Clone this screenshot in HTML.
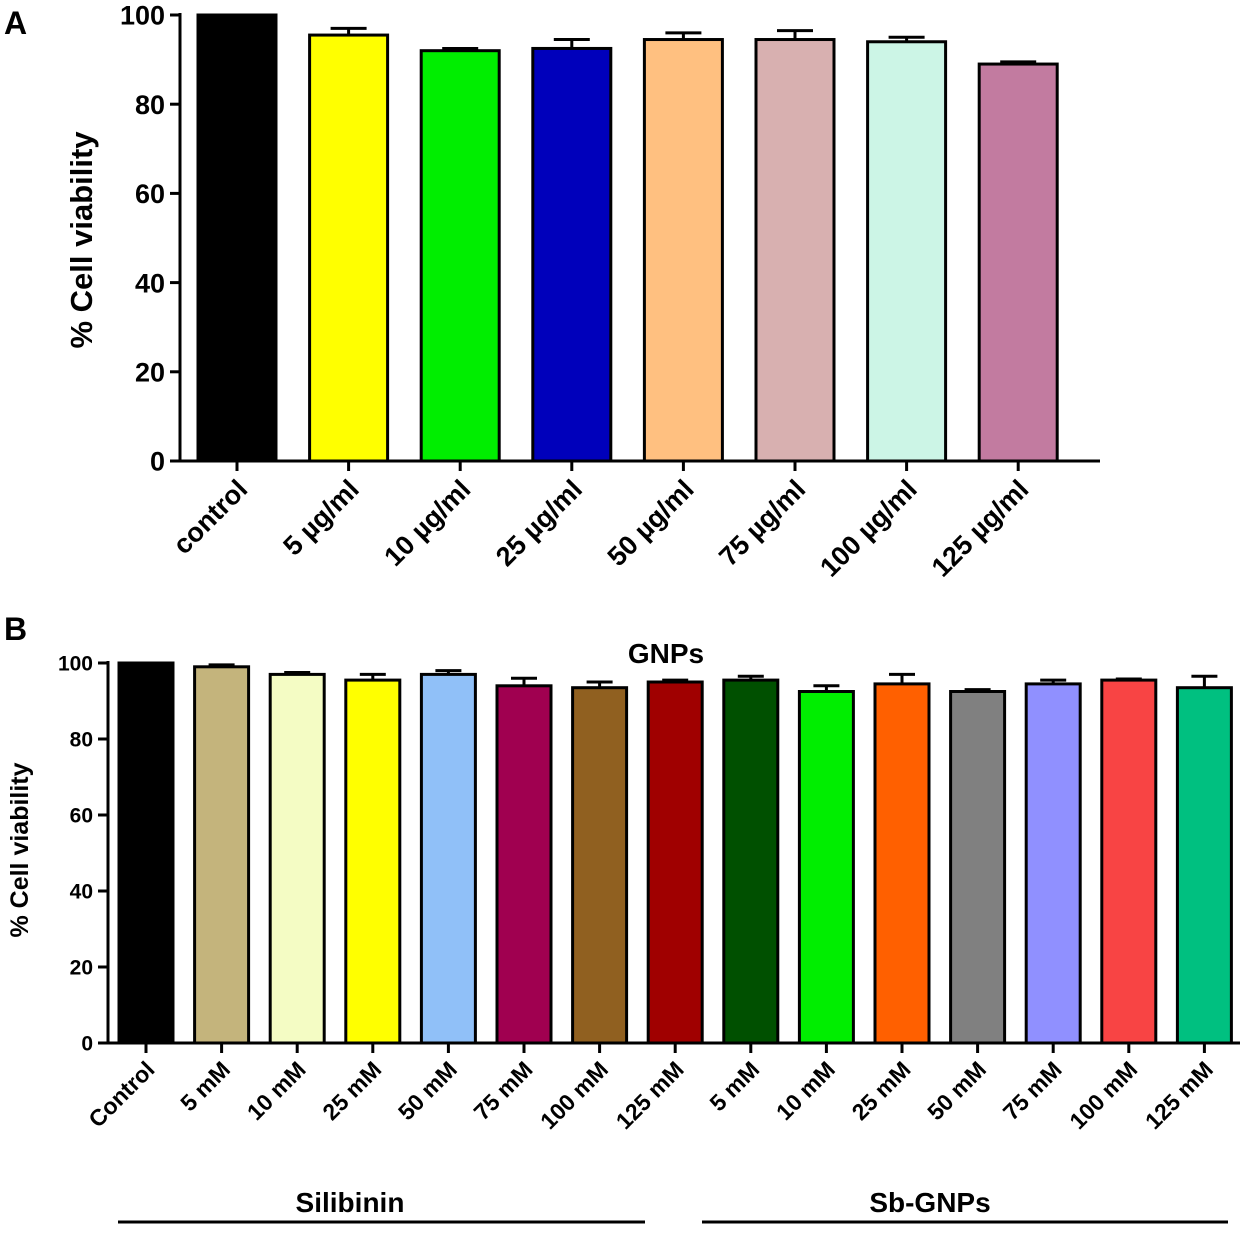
<!DOCTYPE html>
<html><head><meta charset="utf-8"><style>
body{margin:0;background:#fff}
svg text{font-family:"Liberation Sans",Arial,sans-serif;font-weight:bold;fill:#000}
</style></head><body>
<svg id="chart" width="1253" height="1228" viewBox="0 0 1253 1228" xmlns="http://www.w3.org/2000/svg">
<text x="4" y="34" font-size="32">A</text>
<text x="4" y="640" font-size="32">B</text>
<text x="666" y="663" font-size="28" text-anchor="middle">GNPs</text>
<text transform="translate(92,240) rotate(-90)" font-size="31" text-anchor="middle">% Cell viability</text>
<text transform="translate(28,850) rotate(-90)" font-size="25" text-anchor="middle">% Cell viability</text>
<text x="350" y="1212" font-size="28" text-anchor="middle">Silibinin</text>
<line x1="118" y1="1222" x2="645" y2="1222" stroke="#000" stroke-width="3"/>
<text x="930" y="1212" font-size="28" text-anchor="middle">Sb-GNPs</text>
<line x1="702" y1="1222" x2="1228" y2="1222" stroke="#000" stroke-width="3"/>
<g id="pa"></g><g id="pb"></g>
</svg>
<script>
const catsA=["control","5 µg/ml","10 µg/ml","25 µg/ml","50 µg/ml","75 µg/ml","100 µg/ml","125 µg/ml"];
const valsA=[100,95.5,92,92.5,94.5,94.5,94,89];
const errA=[0,1.5,0.5,2,1.5,2,1,0.5];
const colorsA=["#000000","#ffff00","#00ee00","#0000bb","#ffc080","#d8b0b0","#ccf5e6","#c27ba0"];
const ticksA=[0,20,40,60,80,100];
const catsB=["Control","5 mM","10 mM","25 mM","50 mM","75 mM","100 mM","125 mM","5 mM","10 mM","25 mM","50 mM","75 mM","100 mM","125 mM"];
const valsB=[100,99,97,95.5,97,94,93.5,95,95.5,92.5,94.5,92.5,94.5,95.5,93.5];
const errB=[0,0.5,0.5,1.5,1,2,1.5,0.5,1,1.5,2.5,0.5,1,0.3,3];
const colorsB=["#000000","#c4b47c","#f4fcc4","#ffff00","#90c0f8","#a00050","#906020","#a00000","#005000","#00ee00","#ff6000","#808080","#9090ff","#f84444","#00c080"];
const ticksB=[0,20,40,60,80,100];
const NS="http://www.w3.org/2000/svg";
function mk(g,t,a){const e=document.createElementNS(NS,t);for(const k in a)e.setAttribute(k,a[k]);g.appendChild(e);return e;}
function draw(g,cfg){
  const y=v=>cfg.y0-(v/100)*(cfg.y0-cfg.y100);
  const x=i=>cfg.x0+i*cfg.step;
  let ax=mk(g,"line",{x1:cfg.ax,y1:cfg.y100-2,x2:cfg.ax,y2:cfg.y0,stroke:"#000","stroke-width":3});
  
  
  let xa=mk(g,"line",{x1:cfg.ax,y1:cfg.y0,x2:cfg.xEnd,y2:cfg.y0,stroke:"#000","stroke-width":3});
  
  
  cfg.ticks.forEach(t=>{
    const tk=mk(g,"line",{x1:cfg.ax-10,y1:y(t),x2:cfg.ax,y2:y(t),stroke:"#000","stroke-width":3});
    
    
    const tl=mk(g,"text",{x:cfg.ax-15,y:y(t)+cfg.fs*0.36,"font-size":cfg.fs,"text-anchor":"end"});
    tl.textContent=t;
    
    
  });
  cfg.cats.forEach((c,i)=>{
    const cx=x(i),v=cfg.vals[i],e=cfg.errs[i];
    if(e>0){
      const el=mk(g,"path",{d:`M${cx},${y(v)} V${y(v+e)} M${cx-cfg.cap},${y(v+e)} H${cx+cfg.cap}`,stroke:"#000","stroke-width":3,fill:"none"});
      
      
    }
    const b=mk(g,"rect",{x:cx-cfg.bw/2,y:y(v),width:cfg.bw,height:cfg.y0-y(v),fill:cfg.colors[i],stroke:"#000","stroke-width":3});
    
    
    const tk=mk(g,"line",{x1:cx,y1:cfg.y0,x2:cx,y2:cfg.y0+10,stroke:"#000","stroke-width":3});
    
    
    const lx=cx+cfg.lo,ly=cfg.y0+cfg.ld;
    const t=mk(g,"text",{x:lx,y:ly,"font-size":cfg.lfs,"text-anchor":"end",transform:`rotate(-45 ${lx} ${ly})`});
    t.textContent=c;
    
    
  });
}
draw(document.getElementById("pa"),{cats:catsA,vals:valsA,errs:errA,colors:colorsA,ticks:ticksA,y0:461,y100:15,ax:180,xEnd:1100,x0:237,step:111.6,bw:78,cap:18,fs:27,lfs:27,lo:12,ld:30});
draw(document.getElementById("pb"),{cats:catsB,vals:valsB,errs:errB,colors:colorsB,ticks:ticksB,y0:1043,y100:663,ax:108,xEnd:1240,x0:146,step:75.6,bw:54,cap:13,fs:21,lfs:23,lo:10,ld:28});
</script>
</body></html>
